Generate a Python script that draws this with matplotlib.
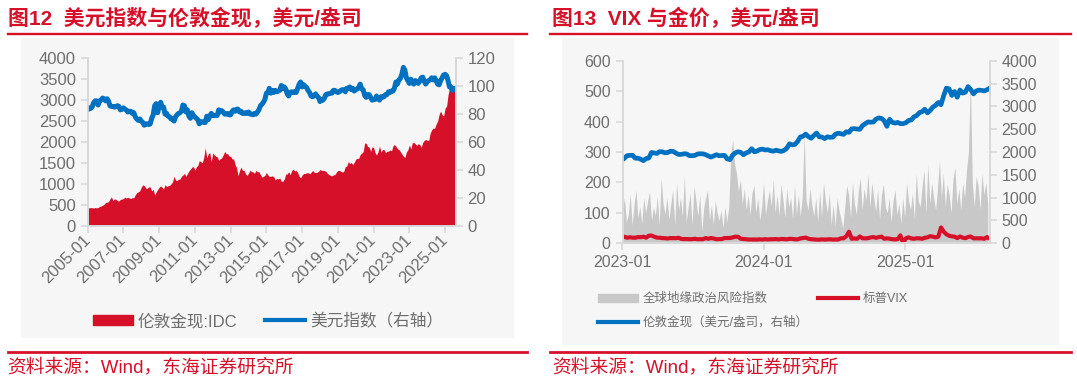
import matplotlib.pyplot as plt
import matplotlib.dates as mdates
from matplotlib.patches import Patch, Rectangle
from matplotlib.lines import Line2D
import pandas as pd

plt.rcParams['font.family'] = ['Liberation Sans', 'Noto Sans CJK SC']
plt.rcParams['axes.unicode_minus'] = False

RED = '#D7102A'
BLUE = '#0070C0'
GREY_FILL = '#C8C8C8'
TXT = '#6E6E6E'
AXIS = '#D9D9D9'

# ---- 图12: 伦敦金现(美元/盎司) 与 美元指数, 月度 2005-01 ~ 2025-08
gold_monthly = [
    425, 427, 430, 432, 420, 435, 425, 435, 460, 470, 490, 510,
    555, 560, 575, 640, 690, 600, 640, 630, 600, 590, 630, 635,
    650, 680, 660, 680, 660, 650, 670, 670, 740, 790, 810, 835,
    920, 975, 960, 900, 890, 930, 925, 830, 870, 730, 810, 865,
    920, 950, 920, 880, 980, 935, 955, 960, 1000, 1050, 1180, 1090,
    1080, 1110, 1115, 1180, 1210, 1250, 1180, 1245, 1310, 1350, 1400, 1410,
    1330, 1410, 1440, 1555, 1530, 1500, 1630, 1860, 1620, 1720, 1745, 1530,
    1740, 1695, 1660, 1650, 1560, 1600, 1620, 1690, 1775, 1720, 1720, 1660,
    1660, 1590, 1600, 1460, 1390, 1190, 1320, 1400, 1320, 1320, 1240, 1200,
    1250, 1330, 1290, 1290, 1250, 1320, 1290, 1290, 1220, 1160, 1180, 1200,
    1270, 1210, 1180, 1180, 1190, 1170, 1090, 1135, 1115, 1140, 1060, 1060,
    1115, 1235, 1235, 1290, 1215, 1320, 1350, 1310, 1320, 1270, 1180, 1145,
    1210, 1250, 1245, 1265, 1265, 1240, 1270, 1320, 1280, 1270, 1275, 1300,
    1345, 1320, 1325, 1315, 1300, 1250, 1225, 1200, 1190, 1215, 1220, 1280,
    1320, 1320, 1300, 1280, 1300, 1410, 1425, 1530, 1485, 1510, 1460, 1515,
    1590, 1610, 1610, 1700, 1730, 1770, 1975, 1970, 1890, 1880, 1775, 1890,
    1860, 1740, 1690, 1770, 1900, 1760, 1820, 1820, 1740, 1780, 1780, 1810,
    1790, 1910, 1940, 1900, 1840, 1820, 1770, 1710, 1660, 1630, 1760, 1810,
    1930, 1830, 1980, 1990, 1960, 1920, 1960, 1940, 1870, 1990, 2040, 2060,
    2040, 2040, 2210, 2290, 2330, 2330, 2430, 2500, 2660, 2740, 2650, 2620,
    2810, 2860, 3120, 3300, 3290, 3300, 3330, 3350,
]
dxy_monthly = [
    83, 84.5, 84, 85, 88, 89.5, 89.5, 86.5, 89.5, 90, 91.5, 91,
    89.5, 91, 89.5, 86, 85.5, 85.5, 85, 85.5, 86, 85.5, 83, 83.5,
    84.5, 83.5, 83, 81.5, 82, 82, 80.5, 81, 78, 76.5, 75.5, 76.5,
    75, 74, 72, 73, 73, 72.5, 73, 77, 79.5, 86, 87.5, 81,
    86, 88.5, 85, 85, 80, 80.5, 78.5, 78, 76.5, 76.5, 75, 78,
    79.5, 80.5, 81, 82, 86.5, 86, 81.5, 83, 78.5, 77, 81, 79,
    78, 77, 76, 73, 74.5, 74.5, 74, 74, 78.5, 76, 78.5, 80.5,
    79, 79, 79, 79, 83, 81.5, 82.5, 81.5, 80, 80, 80.5, 79.5,
    79.5, 82, 83, 82, 83.5, 83.5, 81.5, 82, 80.5, 80.5, 81, 80.5,
    81.5, 80, 80, 79.5, 80.5, 80, 81.5, 83, 86, 87, 88.5, 90.5,
    95, 95.5, 98.5, 95, 97, 95.5, 97, 96, 96.5, 97, 100.5, 98.5,
    99.5, 98, 94.5, 93, 95.5, 96, 95.5, 96, 95.5, 98.5, 101.5, 103,
    99.5, 101, 100, 99, 97, 95.5, 93, 92.5, 93, 94.5, 93, 92,
    89, 90.5, 90, 91.5, 94, 94.5, 94.5, 95, 95, 97, 97, 96,
    95.5, 96, 97, 97.5, 97.5, 96, 98.5, 98.5, 99.5, 97.5, 98.5, 96.5,
    97.5, 98, 99, 101.5, 98, 97.5, 93.5, 92, 94, 94, 92, 90,
    90.5, 90.5, 93, 91, 90, 92.5, 92, 92.5, 94, 94, 96, 95.5,
    96.5, 96.5, 98.5, 103, 101.5, 104.5, 105.5, 108.5, 113.5, 111.5, 106, 104,
    102, 105, 102.5, 101.5, 104, 103, 102, 103.5, 106, 106.5, 103.5, 101.5,
    103.5, 104, 104.5, 106, 104.5, 106, 104, 101.5, 101, 104, 106, 108,
    108.5, 107.5, 104, 99.5, 99.5, 97, 98.5, 98,
]
months = pd.date_range('2005-01-01', periods=len(gold_monthly), freq='MS')

# ---- 图13: 全球地缘政治风险指数(每5日), 标普VIX 与 伦敦金现(每周)
gpr = [
    110, 150, 70, 95, 160, 60, 130, 175, 85, 120, 65, 150,
    100, 140, 170, 75, 120, 90, 155, 60, 215, 130, 95, 150,
    80, 130, 175, 60, 200, 110, 150, 90, 220, 70, 120, 165,
    60, 190, 140, 90, 160, 40, 115, 150, 175, 80, 125, 60,
    140, 100, 75, 110, 50, 120, 70, 120, 290, 340, 260, 230,
    170, 210, 130, 180, 110, 160, 95, 165, 190, 100, 150, 75, 120,
    200, 95, 140, 175, 120, 210, 100, 160, 90, 195, 145, 85,
    180, 120, 150, 80, 190, 95, 160, 90, 150, 355, 140, 110,
    180, 125, 90, 150, 70, 170, 85, 200, 140, 100, 165, 60,
    130, 55, 150, 110, 80, 50, 120, 190, 160, 85, 200, 130,
    95, 170, 215, 110, 180, 140, 230, 120, 200, 150, 105, 175,
    80, 160, 195, 120, 100, 150, 70, 140, 175, 95, 130, 65, 150,
    85, 200, 140, 110, 165, 80, 230, 140, 120, 185, 240, 100,
    260, 130, 200, 150, 110, 180, 270, 150, 230, 120, 195, 160,
    100, 210, 250, 130, 180, 110, 200, 150, 240, 300, 540, 200,
    120, 220, 190, 110, 230, 160, 200, 130,
]
gpr_dates = pd.date_range('2023-01-01', periods=len(gpr), freq='5D')

vix = [
    21.1, 18.4, 19.9, 18.5, 18.3, 20.5, 20.0, 21.7, 18.5, 24.8, 25.5, 21.7, 18.7,
    18.4, 17.1, 16.8, 15.8, 17.2, 17.0, 16.8, 18.0, 14.6, 13.8, 14.0, 13.4, 13.6,
    14.8, 13.3, 13.6, 13.3, 17.1, 14.8, 17.3, 15.7, 13.1, 13.8, 13.8, 17.2, 17.5,
    17.5, 19.3, 21.7, 21.3, 14.9, 14.2, 13.8, 12.5, 12.6, 12.4, 12.3, 13.0, 12.5,
    13.4, 12.7, 13.3, 13.3, 13.9, 12.9, 14.2, 13.8, 13.1, 14.7, 14.4, 13.1, 13.0,
    16.0, 17.3, 18.7, 15.0, 13.5, 12.6, 12.0, 11.9, 12.9, 12.2, 12.7, 13.2, 12.4,
    12.5, 12.5, 16.5, 16.4, 23.4, 38.0, 14.8, 16.1, 15.0, 22.4, 16.6, 16.2, 16.9,
    19.2, 20.5, 18.0, 20.3, 21.9, 15.0, 16.1, 15.2, 13.5, 12.8, 13.8, 26.0, 0.0,
    16.1, 19.5, 16.0, 14.9, 16.4, 16.5, 14.8, 18.2, 19.6, 23.4, 21.8, 19.3, 21.7,
    52.0, 38.0, 29.7, 24.8, 22.7, 21.9, 17.2, 22.3, 18.6, 16.8, 20.8, 22.2, 16.3,
    16.4, 16.4, 16.4, 14.9, 20.4, 15.2,
]
gold_weekly = [
    1865, 1920, 1926, 1929, 1865, 1865, 1842, 1811, 1856, 1868, 1989, 1978, 1969,
    2007, 2004, 1983, 1990, 2017, 2011, 1977, 1946, 1948, 1961, 1958, 1921, 1919,
    1925, 1955, 1962, 1959, 1942, 1913, 1889, 1915, 1940, 1919, 1924, 1925, 1849,
    1833, 1932, 1981, 2006, 1992, 1940, 1981, 2001, 2072, 2005, 2019, 2053, 2063,
    2045, 2049, 2029, 2018, 2039, 2024, 2013, 2036, 2083, 2179, 2155, 2165, 2230,
    2330, 2344, 2392, 2337, 2301, 2360, 2415, 2334, 2327, 2293, 2333, 2322, 2326,
    2391, 2411, 2400, 2386, 2443, 2431, 2507, 2512, 2503, 2497, 2577, 2621, 2658,
    2653, 2657, 2721, 2747, 2736, 2685, 2563, 2715, 2650, 2633, 2648, 2622, 2621,
    2640, 2690, 2702, 2770, 2798, 2861, 2883, 2936, 2858, 2910, 2984, 3023, 3085,
    3037, 3237, 3400, 3380, 3240, 3325, 3200, 3357, 3290, 3310, 3432, 3368, 3274,
    3337, 3355, 3350, 3337, 3363, 3398,
]
weeks = pd.date_range('2023-01-06', periods=len(vix), freq='7D')

W, H = 1077, 387
fig = plt.figure(figsize=(W / 100, H / 100), dpi=100)


def box(x0, y0, x1, y1):
    # pixel box (top-left origin) -> figure fraction rect
    return [x0 / W, 1 - y1 / H, (x1 - x0) / W, (y1 - y0) / H]


def hline(x0, x1, y, lw):
    fig.add_artist(Line2D([x0 / W, x1 / W], [1 - y / H] * 2, color=RED, lw=lw))


def style(ax, size):
    ax.set_facecolor('none')
    ax.spines['top'].set_visible(False)
    for s in ['left', 'right', 'bottom']:
        ax.spines[s].set_color(AXIS)
        ax.spines[s].set_linewidth(1.2)
    ax.tick_params(color=AXIS, labelcolor=TXT, labelsize=size, length=5, width=1.2)


# panel backgrounds
for x0, x1, y1 in [(21, 514, 338), (562, 1059, 345)]:
    fig.patches.append(Rectangle((x0 / W, 1 - y1 / H), (x1 - x0) / W, (y1 - 38) / H,
                                 transform=fig.transFigure, facecolor='#F6F6F6',
                                 edgecolor='none', zorder=-1))

# titles, rules and source lines
fig.text(7.5 / W, 1 - 18 / H, '图12  美元指数与伦敦金现，美元/盎司', color=RED,
         fontsize=15, fontweight='bold', va='center')
fig.text(552 / W, 1 - 18 / H, '图13  VIX 与金价，美元/盎司', color=RED,
         fontsize=15, fontweight='bold', va='center')
hline(7.5, 527, 33.7, 1.7)
hline(550, 1071, 33.7, 1.7)
hline(7.5, 527, 352.3, 2.0)
hline(550, 1071, 352.3, 2.0)
fig.text(7.5 / W, 1 - 367 / H, '资料来源：Wind，东海证券研究所', color=RED,
         fontsize=13.5, va='center')
fig.text(552 / W, 1 - 367 / H, '资料来源：Wind，东海证券研究所', color=RED,
         fontsize=13.5, va='center')

# ---- 左图
ax1 = fig.add_axes(box(87.7, 58.3, 455.5, 225.7))
ax1.fill_between(months, gold_monthly, color=RED, lw=0)
ax1.set_ylim(0, 4000)
ax1.set_yticks(range(0, 4001, 500))
ax1.set_xlim(months[0], months[-1])
ax1.set_xticks(pd.date_range('2005-01-01', '2025-01-01', freq='24MS'))
ax1.xaxis.set_major_formatter(mdates.DateFormatter('%Y-%m'))
style(ax1, 12)
plt.setp(ax1.get_xticklabels(), rotation=45, ha='right', va='center',
         rotation_mode='anchor')

ax1b = ax1.twinx()
ax1b.plot(months, dxy_monthly, color=BLUE, lw=3.6, solid_capstyle='round')
ax1b.set_ylim(0, 120)
ax1b.set_yticks(range(0, 121, 20))
style(ax1b, 12)

fig.legend([Patch(color=RED), Line2D([], [], color=BLUE, lw=3)],
           ['伦敦金现:IDC', '美元指数（右轴）'], loc='center',
           bbox_to_anchor=(268 / W, 1 - 321 / H), ncol=2, frameon=False,
           fontsize=12, labelcolor=TXT, handlelength=2.4, handleheight=0.6,
           handletextpad=0.3, columnspacing=1.7)

# ---- 右图
ax2 = fig.add_axes(box(622.5, 60.7, 989.7, 243.3))
ax2.fill_between(gpr_dates, gpr, color=GREY_FILL, lw=0)
ax2.plot(weeks, vix, color=RED, lw=3)
ax2.set_ylim(0, 600)
ax2.set_yticks(range(0, 601, 100))
ax2.set_xlim(pd.Timestamp('2023-01-01'), weeks[-1])
ax2.set_xticks(pd.to_datetime(['2023-01-01', '2024-01-01', '2025-01-01']))
ax2.xaxis.set_major_formatter(mdates.DateFormatter('%Y-%m'))
style(ax2, 11.5)

ax2b = ax2.twinx()
ax2b.plot(weeks, gold_weekly, color=BLUE, lw=3.4)
ax2b.set_ylim(0, 4000)
ax2b.set_yticks(range(0, 4001, 500))
style(ax2b, 11.5)

fig.legend([Patch(color=GREY_FILL), Line2D([], [], color=BLUE, lw=3),
            Line2D([], [], color=RED, lw=3)],
           ['全球地缘政治风险指数', '伦敦金现（美元/盎司，右轴）', '标普VIX'],
           loc='upper left', bbox_to_anchor=(598 / W, 1 - 293 / H), ncol=2,
           frameon=False, fontsize=9, labelcolor=TXT, handlelength=3.2,
           handleheight=0.55, handletextpad=0.4, columnspacing=0.7,
           labelspacing=0.9, borderpad=0, borderaxespad=0)

fig.savefig('out.png', dpi=100)
